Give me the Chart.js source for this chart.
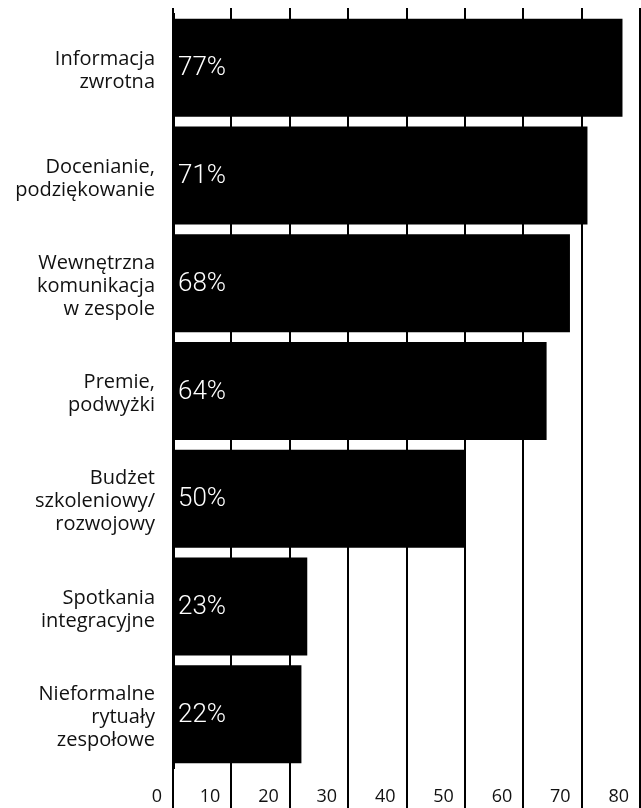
<!DOCTYPE html>
<html>
<head>
<meta charset="utf-8">
<script src="https://cdn.jsdelivr.net/npm/chart.js@4/dist/chart.umd.min.js"></script>
<style>
    html, body { margin: 0; padding: 0; background: #fff; }
    canvas { display: block; }
</style>
</head>
<body>
<canvas id="wykres" width="641" height="808"></canvas>
<script>
const kategorie = [
    ["Informacja", "zwrotna"],
    ["Docenianie,", "podziękowanie"],
    ["Wewnętrzna", "komunikacja", "w zespole"],
    ["Premie,", "podwyżki"],
    ["Budżet", "szkoleniowy/", "rozwojowy"],
    ["Spotkania", "integracyjne"],
    ["Nieformalne", "rytuały", "zespołowe"],
];
const procenty = [77, 71, 68, 64, 50, 23, 22];
const osMin = 0;
const osMax = 80;
const krok = 10;

const etykietyWartosci = {
    id: "etykietyWartosci",
    afterDatasetsDraw(chart) {
        const ctx = chart.ctx;
        const meta = chart.getDatasetMeta(0);
        ctx.save();
        ctx.fillStyle = "#fff";
        ctx.font = "300 26px Roboto";
        ctx.textAlign = "left";
        ctx.textBaseline = "middle";
        meta.data.forEach((bar, i) => {
            ctx.fillText(procenty[i] + "%", bar.base + 4, bar.y + 1);
        });
        ctx.restore();
    },
};

// bez dodatkowych marginesow od etykiet
function bezMarginesow(scale) {
    scale.paddingTop = 0;
    scale.paddingBottom = 0;
    scale.paddingLeft = 0;
    scale.paddingRight = 0;
}

new Chart(document.getElementById("wykres"), {
    type: "bar",
    data: {
        labels: kategorie,
        datasets: [
            {
                data: procenty,
                backgroundColor: "#000",
                barPercentage: 0.91,
                categoryPercentage: 1,
            },
        ],
    },
    options: {
        indexAxis: "y",
        responsive: false,
        animation: false,
        layout: {
            padding: { top: 8, right: 1, left: 0, bottom: 0 },
        },
        plugins: {
            legend: { display: false },
            tooltip: { enabled: false },
        },
        scales: {
            x: {
                position: "bottom",
                min: osMin,
                max: osMax,
                border: { display: false },
                grid: {
                    color: "#000",
                    lineWidth: 2,
                    tickLength: 40,
                },
                ticks: {
                    stepSize: krok,
                    align: "end",
                    labelOffset: -11,
                    padding: -22,
                    color: "#111",
                    font: { family: "Open Sans", size: 18 },
                },
                afterFit(scale) {
                    scale.height = 40;
                    bezMarginesow(scale);
                },
            },
            x2: {
                position: "top",
                min: osMin,
                max: osMax,
                border: { display: false },
                grid: {
                    color: "#000",
                    lineWidth: 2,
                    tickLength: 6,
                    drawOnChartArea: false,
                },
                ticks: { stepSize: krok, display: false },
                afterFit(scale) {
                    scale.height = 6;
                    bezMarginesow(scale);
                },
            },
            y: {
                border: { display: true, color: "#000", width: 3 },
                grid: { display: false, drawTicks: false },
                ticks: {
                    padding: 18,
                    labelOffset: 3,
                    color: "#111",
                    font: { family: "Open Sans", size: 20, lineHeight: 1.15 },
                },
                afterFit(scale) {
                    scale.width = 173;
                    bezMarginesow(scale);
                },
            },
        },
    },
    plugins: [etykietyWartosci],
});
</script>
</body>
</html>
